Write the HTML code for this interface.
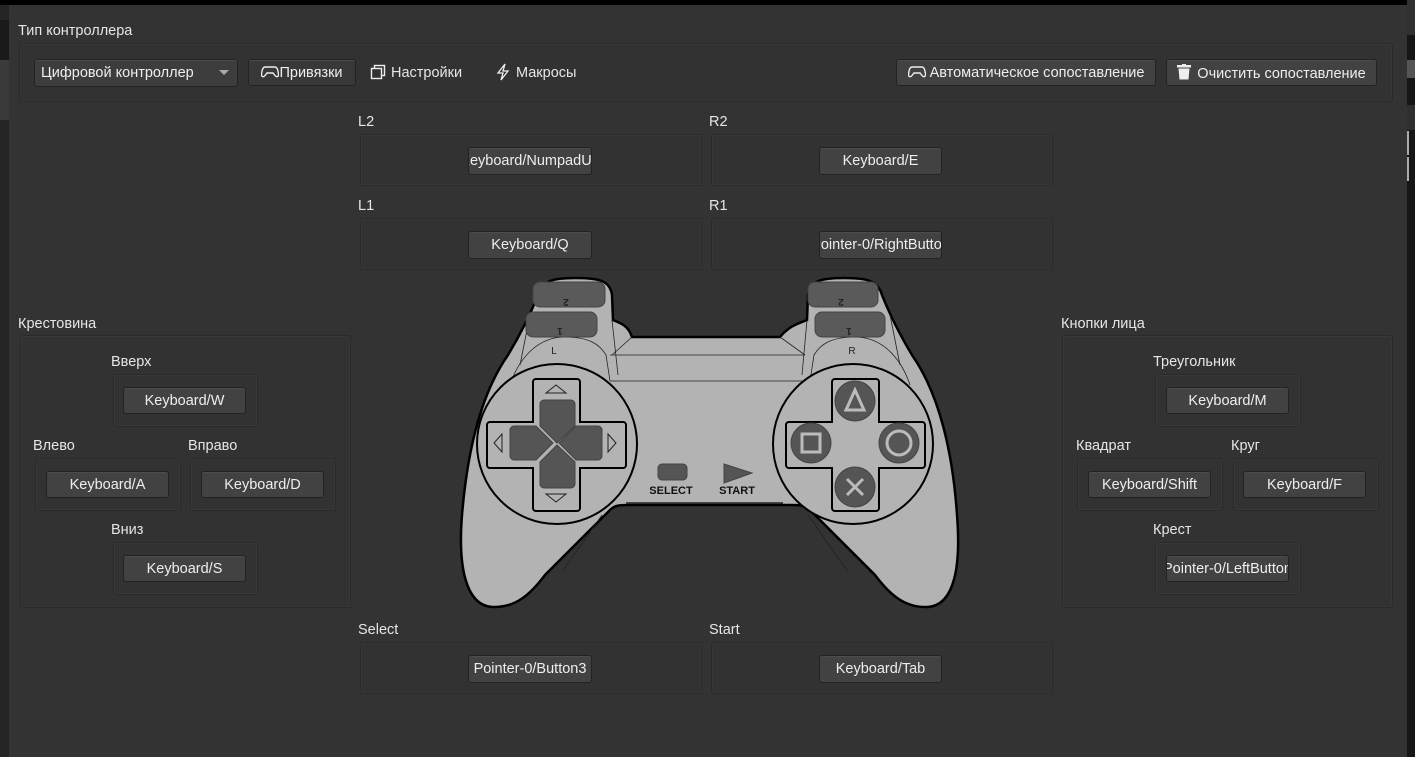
<!DOCTYPE html>
<html><head><meta charset="utf-8"><style>
*{box-sizing:border-box;margin:0;padding:0}
body{width:1415px;height:757px;overflow:hidden;background:#333;font-family:"Liberation Sans","Noto Sans CJK JP",sans-serif;font-size:14.5px;color:#e8e8e8;position:relative}
.a{position:absolute}
.lbl{position:absolute;font-size:14.5px;color:#e6e6e6;line-height:16px}
.box{position:absolute;border:1px solid #2a2a2a;border-radius:3px;background:#323232;box-shadow:inset 0 0 0 1px #383838}
.btn{position:absolute;background:#424242;border:1px solid #222;border-radius:3px;box-shadow:inset 0 1px 0 #4c4c4c;display:flex;justify-content:center;align-items:center;overflow:hidden;white-space:nowrap;color:#eee;font-size:14.5px}
.btn span{flex:none}
</style></head><body>
<div class="a" style="left:0;top:0;width:1415px;height:5px;background:#000"></div>
<div class="a" style="left:0;top:5px;width:9px;height:752px;background:#252525"></div>
<div class="a" style="left:0;top:20px;width:9px;height:40px;background:#1a1a1a"></div>
<div class="a" style="left:0;top:60px;width:9px;height:60px;background:#3a3a3a"></div>
<div class="a" style="left:1407px;top:0;width:8px;height:757px;background:#161616"></div>
<div class="a" style="left:1407px;top:0;width:8px;height:35px;background:#303030"></div>
<div class="a" style="left:1407px;top:60px;width:8px;height:18px;background:#555"></div>
<div class="a" style="left:1407px;top:105px;width:8px;height:25px;background:#2f2f2f"></div>
<div class="a" style="left:1407px;top:131px;width:2px;height:24px;background:#aaa"></div>
<div class="a" style="left:1407px;top:157px;width:2px;height:24px;background:#aaa"></div>

<div class="lbl" style="left:18px;top:23px">Тип контроллера</div>
<div class="box" style="left:19px;top:43px;width:1374px;height:59px"></div>
<div class="btn" style="left:34px;top:59px;width:204px;height:28px;justify-content:flex-start;padding-left:6px;background:#3d3d3d"><span>Цифровой контроллер</span></div>
<div class="a" style="left:219px;top:70px;width:0;height:0;border-left:5px solid transparent;border-right:5px solid transparent;border-top:5px solid #aaa"></div>
<div class="btn" style="left:248px;top:59px;width:108px;height:27px;background:#383838"><span>
<svg width="18" height="12" viewBox="0 0 18 12" style="vertical-align:-1px"><path d="M4 1h10c2 0 3 3 3.5 7 .3 3-2 3.5-3.5 1.5L12 7H6L4 9.5C2.5 11.5.2 11 .5 8 1 4 2 1 4 1z" fill="none" stroke="#eee" stroke-width="1.4"/></svg>Привязки</span></div>
<svg class="a" style="left:370px;top:64px" width="16" height="16" viewBox="0 0 16 16"><rect x="4.5" y="1.5" width="10" height="10" fill="none" stroke="#eee" stroke-width="1.4"/><rect x="1.5" y="4.5" width="10" height="10" fill="#333" stroke="#eee" stroke-width="1.4"/></svg>
<div class="lbl" style="left:391px;top:65px">Настройки</div>
<svg class="a" style="left:496px;top:63px" width="14" height="18" viewBox="0 0 14 18"><path d="M9 1L2 10h5l-2 7 7-9H7z" fill="none" stroke="#eee" stroke-width="1.3"/></svg>
<div class="lbl" style="left:516px;top:65px">Макросы</div>
<div class="btn" style="left:896px;top:59px;width:260px;height:27px"><span><svg width="18" height="12" viewBox="0 0 18 12" style="vertical-align:-1px;margin-right:4px"><path d="M4 1h10c2 0 3 3 3.5 7 .3 3-2 3.5-3.5 1.5L12 7H6L4 9.5C2.5 11.5.2 11 .5 8 1 4 2 1 4 1z" fill="none" stroke="#eee" stroke-width="1.4"/></svg>Автоматическое сопоставление</span></div>
<div class="btn" style="left:1166px;top:59px;width:211px;height:27px"><span><svg width="14" height="16" viewBox="0 0 14 16" style="vertical-align:-2px;margin-right:6px"><rect x="0" y="1" width="14" height="2.5" fill="#eee"/><rect x="5" y="0" width="4" height="2" fill="#eee"/><path d="M1.5 4.5h11l-1 11h-9z" fill="#eee"/></svg>Очистить сопоставление</span></div>

<div class="lbl" style="left:358px;top:114px">L2</div>
<div class="box" style="left:360px;top:134px;width:342px;height:52px"></div>
<div class="btn" style="left:468px;top:147px;width:124px;height:28px"><span>Keyboard/NumpadUp</span></div>
<div class="lbl" style="left:709px;top:114px">R2</div>
<div class="box" style="left:711px;top:134px;width:342px;height:52px"></div>
<div class="btn" style="left:819px;top:147px;width:123px;height:28px"><span>Keyboard/E</span></div>
<div class="lbl" style="left:358px;top:198px">L1</div>
<div class="box" style="left:360px;top:218px;width:342px;height:52px"></div>
<div class="btn" style="left:468px;top:231px;width:124px;height:28px"><span>Keyboard/Q</span></div>
<div class="lbl" style="left:709px;top:198px">R1</div>
<div class="box" style="left:711px;top:218px;width:342px;height:52px"></div>
<div class="btn" style="left:819px;top:231px;width:123px;height:28px"><span>Pointer-0/RightButton</span></div>

<div class="lbl" style="left:18px;top:316px">Крестовина</div>
<div class="box" style="left:20px;top:335px;width:331px;height:273px"></div>
<div class="lbl" style="left:111px;top:354px">Вверх</div>
<div class="box" style="left:113px;top:374px;width:145px;height:53px"></div>
<div class="btn" style="left:123px;top:387px;width:123px;height:27px"><span>Keyboard/W</span></div>
<div class="lbl" style="left:33px;top:438px">Влево</div>
<div class="box" style="left:35px;top:458px;width:146px;height:53px"></div>
<div class="btn" style="left:46px;top:471px;width:123px;height:27px"><span>Keyboard/A</span></div>
<div class="lbl" style="left:188px;top:438px">Вправо</div>
<div class="box" style="left:190px;top:458px;width:146px;height:53px"></div>
<div class="btn" style="left:201px;top:471px;width:123px;height:27px"><span>Keyboard/D</span></div>
<div class="lbl" style="left:111px;top:522px">Вниз</div>
<div class="box" style="left:113px;top:542px;width:145px;height:53px"></div>
<div class="btn" style="left:123px;top:555px;width:123px;height:27px"><span>Keyboard/S</span></div>

<div class="lbl" style="left:1061px;top:316px">Кнопки лица</div>
<div class="box" style="left:1062px;top:335px;width:331px;height:273px"></div>
<div class="lbl" style="left:1153px;top:354px">Треугольник</div>
<div class="box" style="left:1155px;top:374px;width:146px;height:53px"></div>
<div class="btn" style="left:1166px;top:387px;width:123px;height:27px"><span>Keyboard/M</span></div>
<div class="lbl" style="left:1076px;top:438px">Квадрат</div>
<div class="box" style="left:1077px;top:458px;width:146px;height:53px"></div>
<div class="btn" style="left:1088px;top:471px;width:123px;height:27px"><span>Keyboard/Shift</span></div>
<div class="lbl" style="left:1231px;top:438px">Круг</div>
<div class="box" style="left:1233px;top:458px;width:146px;height:53px"></div>
<div class="btn" style="left:1243px;top:471px;width:123px;height:27px"><span>Keyboard/F</span></div>
<div class="lbl" style="left:1153px;top:522px">Крест</div>
<div class="box" style="left:1155px;top:542px;width:146px;height:53px"></div>
<div class="btn" style="left:1166px;top:555px;width:123px;height:27px"><span>Pointer-0/LeftButton</span></div>

<div class="lbl" style="left:358px;top:622px">Select</div>
<div class="box" style="left:360px;top:642px;width:342px;height:52px"></div>
<div class="btn" style="left:468px;top:655px;width:124px;height:28px"><span>Pointer-0/Button3</span></div>
<div class="lbl" style="left:709px;top:622px">Start</div>
<div class="box" style="left:711px;top:642px;width:342px;height:52px"></div>
<div class="btn" style="left:819px;top:655px;width:123px;height:28px"><span>Keyboard/Tab</span></div>

<svg class="a" style="left:450px;top:275px" width="520" height="340" viewBox="0 0 520 340">
<g stroke="#000" fill="#b3b3b3">
<path stroke-width="2.5" d="M182,62 L330,62 C340,50 350,48 357,45 L358,20 C360,5 372,3 395,3 C418,3 428,6 432,20 C440,40 450,60 462,80 C490,120 503,180 507,240 C511,290 505,330 478,332 C455,333 440,320 425,300 L360,235 C355,230 350,230 340,230 L180,230 C170,230 165,230 160,235 L95,300 C80,320 65,333 42,332 C15,330 8,290 12,240 C17,180 30,120 58,80 C70,60 80,40 88,20 C92,6 102,3 125,3 C148,3 160,5 162,20 L163,45 C170,48 178,50 182,62 Z"/>
</g>
<g stroke="#222" fill="none" stroke-width="0.8">
<path d="M160,80 L355,80 M160,106 L355,106"/>
<path d="M60,110 C70,80 90,62 115,62 C140,62 150,70 156,80 L160,106"/>
<path d="M460,110 C450,80 430,62 405,62 C380,62 370,70 364,80 L360,106"/>
<path d="M70,90 L80,40 M162,45 L168,100 M182,62 L162,80 M450,90 L440,40 M357,45 L352,100 M330,62 L355,80"/>
<path d="M152,240 L112,297 M358,240 L398,297"/>
<path d="M176,228 L333,228" stroke-width="1.5"/>
</g>
<g fill="#5a5a5a" stroke="#444" stroke-width="1">
<rect x="83" y="7" width="72" height="25" rx="7"/>
<rect x="76" y="37" width="71" height="25" rx="7"/>
<rect x="358" y="7" width="70" height="25" rx="7"/>
<rect x="365" y="37" width="70" height="25" rx="7"/>
</g>
<g font-family="Liberation Sans,sans-serif" font-size="10" fill="#222" text-anchor="middle" font-weight="bold">
<text x="116" y="16" transform="rotate(180 116 20)">2</text>
<text x="110" y="45" transform="rotate(180 110 49)">1</text>
<text x="391" y="16" transform="rotate(180 391 20)">2</text>
<text x="399" y="45" transform="rotate(180 399 49)">1</text>
<text x="104" y="79" font-weight="normal">L</text>
<text x="402" y="79" font-weight="normal">R</text>
</g>
<g stroke="#000" stroke-width="2" fill="#b3b3b3">
<circle cx="107" cy="169" r="80"/>
<circle cx="403" cy="169" r="80"/>
<path d="M86,104 h41 a3,3 0 0 1 3,3 v40 h43 a3,3 0 0 1 3,3 v40 a3,3 0 0 1 -3,3 h-43 v40 a3,3 0 0 1 -3,3 h-41 a3,3 0 0 1 -3,-3 v-40 h-43 a3,3 0 0 1 -3,-3 v-40 a3,3 0 0 1 3,-3 h43 v-40 a3,3 0 0 1 3,-3z"/>
<path d="M385,104 h41 a3,3 0 0 1 3,3 v40 h43 a3,3 0 0 1 3,3 v40 a3,3 0 0 1 -3,3 h-43 v40 a3,3 0 0 1 -3,3 h-41 a3,3 0 0 1 -3,-3 v-40 h-43 a3,3 0 0 1 -3,-3 v-40 a3,3 0 0 1 3,-3 h43 v-40 a3,3 0 0 1 3,-3z"/>
</g>
<g fill="#555" stroke="#444">
<path d="M94,125 h27 a4,4 0 0 1 4,4 v22 l-18,17 l-17,-17 v-22 a4,4 0 0 1 4,-4z"/>
<path d="M94,213 h27 a4,4 0 0 0 4,-4 v-22 l-18,-17 l-17,17 v22 a4,4 0 0 0 4,4z"/>
<path d="M60,154 v27 a4,4 0 0 0 4,4 h22 l17,-17 l-17,-17 h-22 a4,4 0 0 0 -4,4z"/>
<path d="M152,154 v27 a4,4 0 0 1 -4,4 h-22 l-17,-17 l17,-17 h22 a4,4 0 0 1 4,4z"/>
<rect x="208" y="189" width="29" height="16" rx="4"/>
<path d="M274,189 L302,198 L274,208 Z"/>
<circle cx="405" cy="126" r="20"/><circle cx="361" cy="168" r="20"/><circle cx="449" cy="168" r="20"/><circle cx="405" cy="212" r="20"/>
</g>
<g fill="none" stroke="#bbb" stroke-width="3">
<path d="M405,115 L396,135 L414,135 Z"/>
<rect x="352" y="159" width="18" height="18"/>
<circle cx="449" cy="168" r="12"/>
<path d="M397,204 L413,220 M413,204 L397,220"/>
</g>
<g fill="none" stroke="#222" stroke-width="1">
<path d="M96,118 L106,110 L116,118 Z M96,219 L106,227 L116,219 Z M52,159 L44,168 L52,177 Z M158,159 L166,168 L158,177 Z"/>
</g>
<g font-family="Liberation Sans,sans-serif" font-size="11" font-weight="bold" fill="#111" text-anchor="middle">
<text x="221" y="219">SELECT</text><text x="287" y="219">START</text>
</g>
</svg>
</body></html>
